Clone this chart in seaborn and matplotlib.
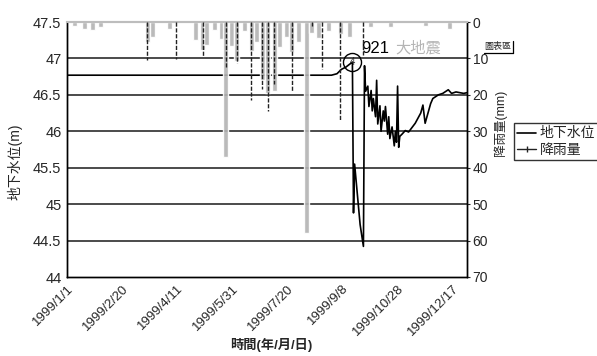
import matplotlib
matplotlib.use("Agg")
import matplotlib.pyplot as plt
from matplotlib.lines import Line2D
import seaborn as sns
import pandas as pd

sns.set_theme(style="white")
plt.rcParams["font.family"] = ["Liberation Sans", "Noto Sans CJK TC", "DejaVu Sans"]

# groundwater level (m), 1999
level_dates = [
    "1999-01-01", "1999-08-29", "1999-09-03", "1999-09-07", "1999-09-11",
    "1999-09-17", "1999-09-18", "1999-09-19", "1999-09-24", "1999-09-27",
    "1999-09-28", "1999-09-29", "1999-10-01", "1999-10-02", "1999-10-04",
    "1999-10-05", "1999-10-06", "1999-10-08", "1999-10-09", "1999-10-10",
    "1999-10-12", "1999-10-13", "1999-10-15", "1999-10-16", "1999-10-17",
    "1999-10-19", "1999-10-20", "1999-10-21", "1999-10-23", "1999-10-25",
    "1999-10-26", "1999-10-27", "1999-10-28", "1999-10-29", "1999-10-30",
    "1999-11-01", "1999-11-04", "1999-11-07", "1999-11-13", "1999-11-18",
    "1999-11-20", "1999-11-22", "1999-11-27", "1999-11-29", "1999-12-04",
    "1999-12-08", "1999-12-13", "1999-12-16", "1999-12-20", "1999-12-27",
    "1999-12-30",
]
level_m = [
    46.77, 46.77, 46.79, 46.85, 46.88,
    46.95, 44.88, 45.55, 44.72, 44.42,
    46.90, 46.55, 46.62, 46.34, 46.56,
    46.28, 46.45, 46.20, 46.70, 46.10,
    46.35, 46.00, 46.28, 46.14, 46.34,
    45.96, 46.20, 45.90, 46.06, 45.80,
    46.00, 45.85, 46.62, 45.78, 45.93,
    45.96, 46.01, 45.99, 46.11, 46.25,
    46.36, 46.11, 46.38, 46.45, 46.50,
    46.52, 46.57, 46.52, 46.54, 46.52,
    46.53,
]

# daily rainfall (mm)
rain_dates = [
    "1999-01-08", "1999-01-17", "1999-01-24", "1999-01-31", "1999-03-15",
    "1999-03-20", "1999-04-04", "1999-04-28", "1999-05-04", "1999-05-08",
    "1999-05-15", "1999-05-21", "1999-05-25", "1999-05-30", "1999-06-04",
    "1999-06-11", "1999-06-17", "1999-06-22", "1999-06-27", "1999-07-02",
    "1999-07-08", "1999-07-13", "1999-07-19", "1999-07-24", "1999-07-30",
    "1999-08-06", "1999-08-11", "1999-08-17", "1999-08-26", "1999-09-06",
    "1999-09-14", "1999-10-03", "1999-10-22", "1999-11-22", "1999-12-14",
]
rain_mm = [
    1.0, 1.8, 2.3, 1.5, 5.4,
    4.0, 2.0, 5.0, 7.7, 6.3,
    2.3, 4.6, 37.0, 6.5, 10.6,
    2.5, 8.0, 5.4, 16.0, 19.5,
    19.0, 6.8, 4.2, 8.3, 5.6,
    58.0, 3.0, 4.3, 2.6, 3.2,
    4.0, 1.5, 1.3, 1.0, 1.8,
]

# rain gauge readings (mm)
gauge_dates = [
    "1999-03-15", "1999-04-10", "1999-05-04", "1999-05-25", "1999-06-04",
    "1999-06-17", "1999-06-27", "1999-07-02", "1999-07-08", "1999-07-24",
    "1999-08-11", "1999-08-20", "1999-09-06", "1999-09-27",
]
gauge_mm = [
    10.5, 10.2, 9.6, 12.4, 11.2,
    21.5, 18.3, 24.3, 17.0, 19.0,
    1.2, 13.0, 27.0, 9.0,
]

x_ticks = ["1999/1/1", "1999/2/20", "1999/4/11", "1999/5/31",
           "1999/7/20", "1999/9/8", "1999/10/28", "1999/12/17"]
level_ticks = [44, 44.5, 45, 45.5, 46, 46.5, 47, 47.5]
rain_ticks = [0, 10, 20, 30, 40, 50, 60, 70]

level_df = pd.DataFrame({"date": pd.to_datetime(level_dates), "level": level_m})
rain_df = pd.DataFrame({"date": pd.to_datetime(rain_dates), "mm": rain_mm})
gauge_df = pd.DataFrame({"date": pd.to_datetime(gauge_dates), "mm": gauge_mm})
tick_dates = pd.to_datetime(x_ticks, format="%Y/%m/%d")

W, H = 597, 356
fig = plt.figure(figsize=(W / 100, H / 100), dpi=100)
ax = fig.add_axes([67 / W, 1 - 277 / H, 400 / W, 255 / H])
ax2 = ax.twinx()

# horizontal grid lines every 0.5 m
for v in level_ticks[1:-1]:
    ax.axhline(v, color="#1a1a1a", lw=1.1, zorder=1)

sns.lineplot(data=level_df, x="date", y="level", ax=ax, color="black",
             lw=1.2, sort=False, zorder=3)

# circled marker at the pre-earthquake peak
peak = level_df.iloc[5]
ax.plot([peak["date"]], [peak["level"]], marker="o", ms=13, mfc="none",
        mec="black", mew=1.0, zorder=4)
ax.text(peak["date"], peak["level"], "4", fontsize=7, ha="center",
        va="center", zorder=4)
ax.text(pd.Timestamp("1999-09-25"), 47.08, "921", fontsize=12,
        color="black", ha="left", va="baseline")
ax.text(pd.Timestamp("1999-10-26"), 47.08, "大地震", fontsize=11,
        color="#b5b5b5", ha="left", va="baseline")

# rainfall hanging from the top (inverted right axis)
ax2.bar(rain_df["date"], rain_df["mm"], width=4.5, color="#b3b3b3",
        alpha=0.9, zorder=2)
ax2.vlines(gauge_df["date"], 0, gauge_df["mm"], color="#222222", lw=1.0,
           linestyles=(0, (3, 1.2)), zorder=3)

ax.set_xlim(pd.Timestamp("1999-01-01"), pd.Timestamp("1999-12-30"))
ax.set_ylim(44, 47.5)
ax2.set_ylim(70, 0)

ax.set_yticks(level_ticks)
ax.set_yticklabels([f"{v:g}" for v in level_ticks], fontsize=10.5)
ax2.set_yticks(rain_ticks)
ax2.set_yticklabels([str(v) for v in rain_ticks], fontsize=10)
ax.set_xticks(tick_dates)
ax.set_xticklabels(x_ticks, fontsize=9.5, rotation=45, ha="right",
                   rotation_mode="anchor")
ax.tick_params(axis="x", direction="in", length=3, width=0.8, pad=4)
ax.tick_params(axis="y", length=0, pad=4)
ax2.tick_params(axis="y", direction="out", length=2, width=0.8, pad=2)
ax.set_xlabel("")
ax.set_ylabel("")
ax2.set_ylabel("")

for a in (ax, ax2):
    for side in ("left", "bottom", "right"):
        a.spines[side].set_color("black")
        a.spines[side].set_linewidth(1.0)
    a.spines["top"].set_color("#bdbdbd")
    a.spines["top"].set_linewidth(1.5)
ax.patch.set_alpha(0)

fig.text(15 / W, 1 - 162 / H, "地下水位(m)", rotation=90, ha="center",
         va="center", fontsize=10)
fig.text(500 / W, 1 - 123 / H, "降雨量(mm)", rotation=90, ha="center",
         va="center", fontsize=9)
fig.text(271 / W, 1 - 345 / H, "時間(年/月/日)", ha="center", va="center",
         fontsize=9.5, fontweight="bold")

# chart-area tag
fig.text(498 / W, 1 - 47 / H, "圖表區", ha="center", va="center",
         fontsize=6.5)
fig.add_artist(Line2D([484 / W, 513 / W], [1 - 53 / H, 1 - 53 / H],
                      color="black", lw=0.9, transform=fig.transFigure))
fig.add_artist(Line2D([513 / W, 513 / W], [1 - 41 / H, 1 - 53 / H],
                      color="black", lw=0.9, transform=fig.transFigure))

handles = [
    Line2D([], [], color="black", lw=1.2),
    Line2D([], [], color="#222222", lw=1.0, marker="|", ms=4),
]
fig.legend(handles, ["地下水位", "降雨量"], loc="upper left",
           bbox_to_anchor=(514 / W, 1 - 123 / H), fontsize=10,
           frameon=True, fancybox=False, edgecolor="black",
           handlelength=1.3, handletextpad=0.3, borderpad=0.25,
           labelspacing=0.15, borderaxespad=0)

fig.savefig("out.png", dpi=100)
